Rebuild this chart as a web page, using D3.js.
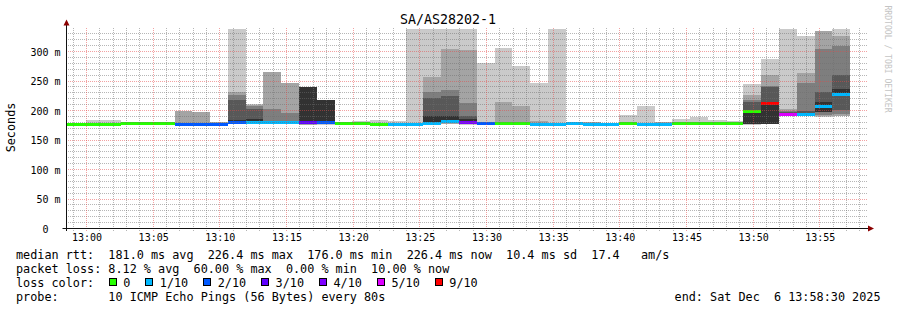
<!DOCTYPE html>
<html>
<head>
<meta charset="utf-8">
<title>SA/AS28202-1</title>
<script src="https://cdn.jsdelivr.net/npm/d3@7"></script>
<style>
    html, body { margin: 0; padding: 0; background: #ffffff; }
    svg { display: block; font-family: "DejaVu Sans Mono", monospace; }
    text { white-space: pre; }
</style>
</head>
<body>
<svg id="graph" width="897" height="310"></svg>
<script>
(function(){
    'use strict';

    /*******************************************************************
     *                              DATA                               *
     *******************************************************************/

    var title = 'SA/AS28202-1';
    var yLabel = 'Seconds';
    var watermark = 'RRDTOOL / TOBI OETIKER';
    var stepSeconds = 80;

    //Start of each 80s probe step (Sat Dec 6 2025)
    var stepStarts = [
        '12:57:16', '12:58:36', '12:59:56', '13:01:16', '13:02:36', '13:03:56',
        '13:05:16', '13:06:36', '13:07:56', '13:09:16', '13:10:36', '13:11:56',
        '13:13:16', '13:14:36', '13:15:56', '13:17:16', '13:18:36', '13:19:56',
        '13:21:16', '13:22:36', '13:23:56', '13:25:16', '13:26:36', '13:27:56',
        '13:29:16', '13:30:36', '13:31:56', '13:33:16', '13:34:36', '13:35:56',
        '13:37:16', '13:38:36', '13:39:56', '13:41:16', '13:42:36', '13:43:56',
        '13:45:16', '13:46:36', '13:47:56', '13:49:16', '13:50:36', '13:51:56',
        '13:53:16', '13:54:36', '13:55:56'
    ];

    //Median rtt per step, ms
    var medians = [
        176.5, 176.5, 176.5, 177, 177.5, 177.5,
        177.5, 177, 177, 177, 180, 180,
        179, 179, 180.5, 180, 178, 178,
        176, 177, 177, 177.5, 181.5, 180.5,
        178.5, 177.5, 177.5, 177, 177, 177.5,
        176.5, 176.5, 177.5, 177, 177, 178,
        178, 177.5, 177.5, 198, 212.5, 194,
        194, 206, 226.4
    ];

    //Lost pings per step (out of 10)
    var losses = [
        0, 0, 0, 0, 0, 0,
        0, 2, 2, 2, 2, 1,
        1, 1, 3, 2, 0, 0,
        0, 1, 1, 1, 1, 4,
        2, 0, 0, 1, 1, 1,
        1, 1, 0, 1, 1, 0,
        0, 0, 0, 0, 6, 5,
        1, 1, 1
    ];

    //Sorted ping rtts per step, ms (null = unknown, drawn as INF)
    var pings = [
        [175.5, 176, 176, 176.5, 176.5, 176.5, 177, 177, 177.5, 178],
        [175.5, 176, 176, 176.5, 176.5, 177, 177, 177.5, 178, 179],
        [175.5, 176, 176.5, 176.5, 176.5, 177, 177.5, 178, 179, 184],
        [176, 176.5, 176.5, 177, 177, 177.5, 178, 178.5, 179.5, 184],
        [176.5, 177, 177, 177.5, 177.5, 178, 178, 178.5, 180, 181],
        [176.5, 177, 177, 177.5, 177.5, 178, 178, 178.5, 179.5, 181],
        [176.5, 177, 177, 177.5, 177.5, 178, 178, 178.5, 179, 180.5],
        [176, 176, 176.5, 177, 177, 177.5, 178, 179, 199, 199],
        [176, 176, 176.5, 177, 177, 177.5, 178, 179, 197.5, 197.5],
        [176, 176.5, 176.5, 177, 177, 177.5, 178, 178.5, 181, 181],
        [177, 177.5, 178, 178.5, 179, 184, 217, 225.5, 232, null],
        [177, 177.5, 178, 178.5, 179, 186, 203, 207, 209, 211.5],
        [176.5, 177, 177.5, 178, 178.5, 180, 182, 202.5, 265, 265],
        [176.5, 177, 177.5, 178, 178.5, 180, 182, 196, 247, 247],
        [175, 175.5, 177, 178, 179, 239, 239, 239, 239, 239],
        [176, 177, 178, 178.5, 179, 218, 218, 218, 218, 218],
        [176.5, 177, 177, 177.5, 177.5, 178, 178.5, 178.5, 179, 179.5],
        [176.5, 177, 177, 177.5, 177.5, 178, 178.5, 179, 180, 182],
        [175, 175.5, 175.5, 176, 176, 176.5, 177, 177.5, 179.5, 184],
        [176, 176, 176.5, 176.5, 177, 177.5, 178, 178.5, 179.5, 182],
        [176, 176, 176.5, 176.5, 177, 177.5, 178, 178.5, 179, null],
        [176, 176.5, 177, 177, 177.5, 190, 222, 232, 257, null],
        [177, 177.5, 178, 178.5, 179, 190, 225, 234.5, 304, null],
        [176, 176.5, 177, 177.5, 178, 186, 191, 212.5, 302, null],
        [176.5, 177, 177.5, 177.5, 178, 179, 179.5, 180, 181, 281],
        [176.5, 177, 177, 177.5, 177.5, 178, 178.5, 179.5, 215, 306],
        [176.5, 177, 177, 177.5, 177.5, 178, 178.5, 181, 208, 276],
        [176, 176.5, 176.5, 177, 177, 177.5, 178, 178.5, 182.5, 247],
        [176, 176.5, 176.5, 177, 177, 177.5, 178, 178.5, 179, null],
        [176.5, 176.5, 177, 177, 177.5, 178, 178.5, 179, 180.5, 180.5],
        [175.5, 176, 176, 176.5, 176.5, 177, 177.5, 178, 180.5, 180.5],
        [175.5, 176, 176, 176.5, 176.5, 177, 177.5, 177.5, 178, 178.5],
        [176.5, 176.5, 177, 177, 177.5, 178, 178.5, 179, 180, 192.5],
        [176, 176.5, 176.5, 177, 177, 177.5, 178, 178.5, 179.5, 207.5],
        [176, 176.5, 176.5, 177, 177, 177.5, 178, 178.5, 180.5, 180.5],
        [177, 177, 177.5, 177.5, 178, 178.5, 179, 179.5, 180.5, 186],
        [177, 177, 177.5, 177.5, 178, 178.5, 179, 179.5, 181, 189.5],
        [176.5, 177, 177, 177.5, 177.5, 178, 178.5, 179, 180.5, 184.5],
        [176.5, 177, 177, 177.5, 177.5, 178, 178.5, 179, 180, 182],
        [176, 176.5, 176.5, 176.5, 176.6, 197, 214, 218, 226, 245.5],
        [177, 177.5, 177.5, 177.6, 177.6, 212, 240, 242, 260, 288],
        [190.5, 191, 191, 191.5, 192, 196, 198, 200, 203, null],
        [190, 190.5, 191, 191.5, 192, 195, 200, 246, 264, 327],
        [189.5, 190, 192, 197, 197, 214, 232, 305, 335, 335],
        [190.5, 191, 194, 201, 224, 236, 260, 310, 326, null]
    ];

    //Loss colour buckets
    var lossLevels = [0, 1, 2, 3, 4, 5, 9];
    var lossLabels = ['0', '1/10', '2/10', '3/10', '4/10', '5/10', '9/10'];
    var lossColors = ['#26ff00', '#00b8ff', '#0059ff', '#5e00ff', '#7e00ff', '#dd00ff', '#ff0000'];

    //Smoke shades, outer pair first
    var smokeColors = ['#cacaca', '#a4a4a4', '#7e7e7e', '#585858', '#323232'];

    var yTickValues = [0, 50, 100, 150, 200, 250, 300];
    var xTickLabels = ['13:00', '13:05', '13:10', '13:15', '13:20', '13:25',
                       '13:30', '13:35', '13:40', '13:45', '13:50', '13:55'];

    var legendRtt = 'median rtt:  181.0 ms avg  226.4 ms max  176.0 ms min  226.4 ms now  10.4 ms sd  17.4   am/s';
    var legendLoss = 'packet loss: 8.12 % avg  60.00 % max  0.00 % min  10.00 % now';
    var legendColorTitle = 'loss color:';
    var legendProbe = 'probe:       10 ICMP Echo Pings (56 Bytes) every 80s';
    var legendEnd = 'end: Sat Dec  6 13:58:30 2025';

    /*******************************************************************
     *                             SCALES                              *
     *******************************************************************/

    var svg = d3.select('#graph').attr('xml:space', 'preserve');
    var left = 66.5, right = 866.5, top = 28.5, bottom = 228.5;
    var yMax = 339;
    var legendFont = '11.8px';

    function parseTime(s) {
        var p = s.split(':');
        return new Date(2025, 11, 6, +p[0], +p[1], +(p[2] || 0));
    }

    var xScale = d3.scaleTime()
        .domain([parseTime('12:58:30'), parseTime('13:58:30')])
        .range([left, right]);

    var yScale = d3.scaleLinear()
        .domain([0, yMax])
        .range([bottom, top])
        .clamp(true);

    function lossColor(loss) {
        for (var i = 0; i < lossLevels.length; i++) {
            if (loss <= lossLevels[i]) return lossColors[i];
        }
        return lossColors[lossColors.length - 1];
    }

    var steps = stepStarts.map(function(s, i) {
        var t0 = parseTime(s);
        return {
            start: t0,
            end: new Date(t0.getTime() + stepSeconds * 1000),
            median: medians[i],
            loss: losses[i],
            pings: pings[i]
        };
    });

    /*******************************************************************
     *                        DEFS (CLIP, DOTS)                        *
     *******************************************************************/

    var defs = svg.append('defs');

    defs.append('clipPath').attr('id', 'plot-clip')
        .append('rect')
        .attr('x', 67).attr('y', 28)
        .attr('width', 800).attr('height', 200.5);

    //1px dotted grid patterns, one dot every other pixel
    function dotPattern(id, color, horizontal) {
        var p = defs.append('pattern')
            .attr('id', id)
            .attr('patternUnits', 'userSpaceOnUse')
            .attr('width', horizontal ? 2 : 1)
            .attr('height', horizontal ? 1 : 2);
        p.append('rect').attr('width', 1).attr('height', 1).attr('fill', color);
    }
    var minorColor = 'rgba(110,110,110,0.5)';
    var majorColor = 'rgba(230,70,70,0.5)';
    dotPattern('dot-minor-h', minorColor, true);
    dotPattern('dot-major-h', majorColor, true);
    dotPattern('dot-minor-v', minorColor, false);
    dotPattern('dot-major-v', majorColor, false);

    /*******************************************************************
     *                              SMOKE                              *
     *******************************************************************/

    var layers = [];
    steps.forEach(function(d) {
        for (var i = 0; i < 5; i++) {
            var lo = d.pings[i], hi = d.pings[9 - i];
            if (lo === null) continue;
            layers.push({ step: d, layer: i, lo: lo, hi: hi === null ? yMax : hi });
        }
    });

    var plot = svg.append('g').attr('clip-path', 'url(#plot-clip)');

    plot.selectAll('rect.smoke')
        .data(layers)
        .enter()
        .append('rect')
        .attr('class', 'smoke')
        .attr('x',      function(d) { return xScale(d.step.start); })
        .attr('width',  function(d) { return xScale(d.step.end) - xScale(d.step.start); })
        .attr('y',      function(d) { return yScale(d.hi); })
        .attr('height', function(d) { return Math.max(0, yScale(d.lo) - yScale(d.hi)); })
        .attr('fill',   function(d) { return smokeColors[d.layer]; })
        .attr('shape-rendering', 'crispEdges');

    plot.selectAll('rect.median')
        .data(steps)
        .enter()
        .append('rect')
        .attr('class', 'median')
        .attr('x',     function(d) { return xScale(d.start); })
        .attr('width', function(d) { return xScale(d.end) - xScale(d.start); })
        .attr('y',     function(d) { return yScale(d.median) - 1.5; })
        .attr('height', 3)
        .attr('fill',  function(d) { return lossColor(d.loss); })
        .attr('shape-rendering', 'crispEdges');

    /*******************************************************************
     *                              GRID                               *
     *******************************************************************/

    var grid = svg.append('g').attr('class', 'grid').attr('shape-rendering', 'crispEdges');

    grid.selectAll('rect.hgrid')
        .data(d3.range(10, yMax, 10))
        .enter()
        .append('rect')
        .attr('class', 'hgrid')
        .attr('x', 67)
        .attr('y', function(v) { return Math.floor(yScale(v)); })
        .attr('width', 800)
        .attr('height', 1)
        .attr('fill', function(v) { return v % 50 === 0 ? 'url(#dot-major-h)' : 'url(#dot-minor-h)'; });

    grid.selectAll('rect.vgrid')
        .data(xScale.ticks(d3.timeMinute.every(1)))
        .enter()
        .append('rect')
        .attr('class', 'vgrid')
        .attr('x', function(t) { return Math.floor(xScale(t)); })
        .attr('y', 28)
        .attr('width', 1)
        .attr('height', 203)
        .attr('fill', function(t) {
            return t.getMinutes() % 5 === 0 ? 'url(#dot-major-v)' : 'url(#dot-minor-v)';
        });

    /*******************************************************************
     *                              AXES                               *
     *******************************************************************/

    var xAxis = d3.axisBottom(xScale)
        .tickValues(xTickLabels.map(parseTime))
        .tickFormat(d3.timeFormat('%H:%M'))
        .tickSize(0)
        .tickPadding(5.4);

    var gx = svg.append('g')
        .attr('transform', 'translate(0,' + bottom + ')')
        .call(xAxis);
    gx.select('.domain').remove();
    gx.attr('font-family', '"DejaVu Sans Mono", monospace').attr('font-size', 10);

    var yAxis = d3.axisLeft(yScale)
        .tickValues(yTickValues)
        .tickFormat(function(d) { return d === 0 ? '0  ' : d + ' m'; })
        .tickSize(0)
        .tickPadding(6);

    var gy = svg.append('g')
        .attr('transform', 'translate(' + left + ',0)')
        .call(yAxis);
    gy.select('.domain').remove();
    gy.attr('font-family', '"DejaVu Sans Mono", monospace').attr('font-size', 10);
    gy.selectAll('text').attr('dy', '0.36em');

    //Axis lines with arrow heads
    svg.append('line')
        .attr('x1', 62.5).attr('x2', 869)
        .attr('y1', bottom).attr('y2', bottom)
        .attr('stroke', '#111');
    svg.append('line')
        .attr('x1', left).attr('x2', left)
        .attr('y1', 23).attr('y2', 231)
        .attr('stroke', '#111');
    svg.append('path')
        .attr('d', 'M868,225.5L874,228.5L868,231.5Z')
        .attr('fill', '#8b0000');
    svg.append('path')
        .attr('d', 'M63.5,25.5L66.5,19.5L69.5,25.5Z')
        .attr('fill', '#8b0000');

    /*******************************************************************
     *                        TITLE AND LABELS                         *
     *******************************************************************/

    svg.append('text')
        .attr('x', 448).attr('y', 23.5)
        .attr('text-anchor', 'middle')
        .attr('font-size', '13.3px')
        .text(title);

    svg.append('text')
        .attr('transform', 'translate(15,127.5) rotate(-90)')
        .attr('text-anchor', 'middle')
        .attr('font-size', legendFont)
        .text(yLabel);

    svg.append('text')
        .attr('transform', 'translate(885,59) rotate(90)')
        .attr('text-anchor', 'middle')
        .attr('font-size', '8.1px')
        .attr('fill', '#c4c4c4')
        .text(watermark);

    /*******************************************************************
     *                             LEGEND                              *
     *******************************************************************/

    var legend = svg.append('g').attr('font-size', legendFont);

    [legendRtt, legendLoss, legendColorTitle, legendProbe].forEach(function(line, i) {
        legend.append('text')
            .attr('x', 16)
            .attr('y', 258.5 + i * 14)
            .text(line);
    });

    legend.append('text')
        .attr('x', 880.5)
        .attr('y', 300.5)
        .attr('text-anchor', 'end')
        .text(legendEnd);

    var charWidth = 7.1;
    var lx = 108.5;
    lossLabels.forEach(function(label, i) {
        legend.append('rect')
            .attr('x', lx + 0.5).attr('y', 278.5)
            .attr('width', 7).attr('height', 7)
            .attr('fill', lossColors[i])
            .attr('stroke', '#000')
            .attr('shape-rendering', 'crispEdges');
        legend.append('text')
            .attr('x', lx + 14.7)
            .attr('y', 286.5)
            .text(label);
        lx += 14.7 + label.length * charWidth + 14.8;
    });
})();
</script>
</body>
</html>
